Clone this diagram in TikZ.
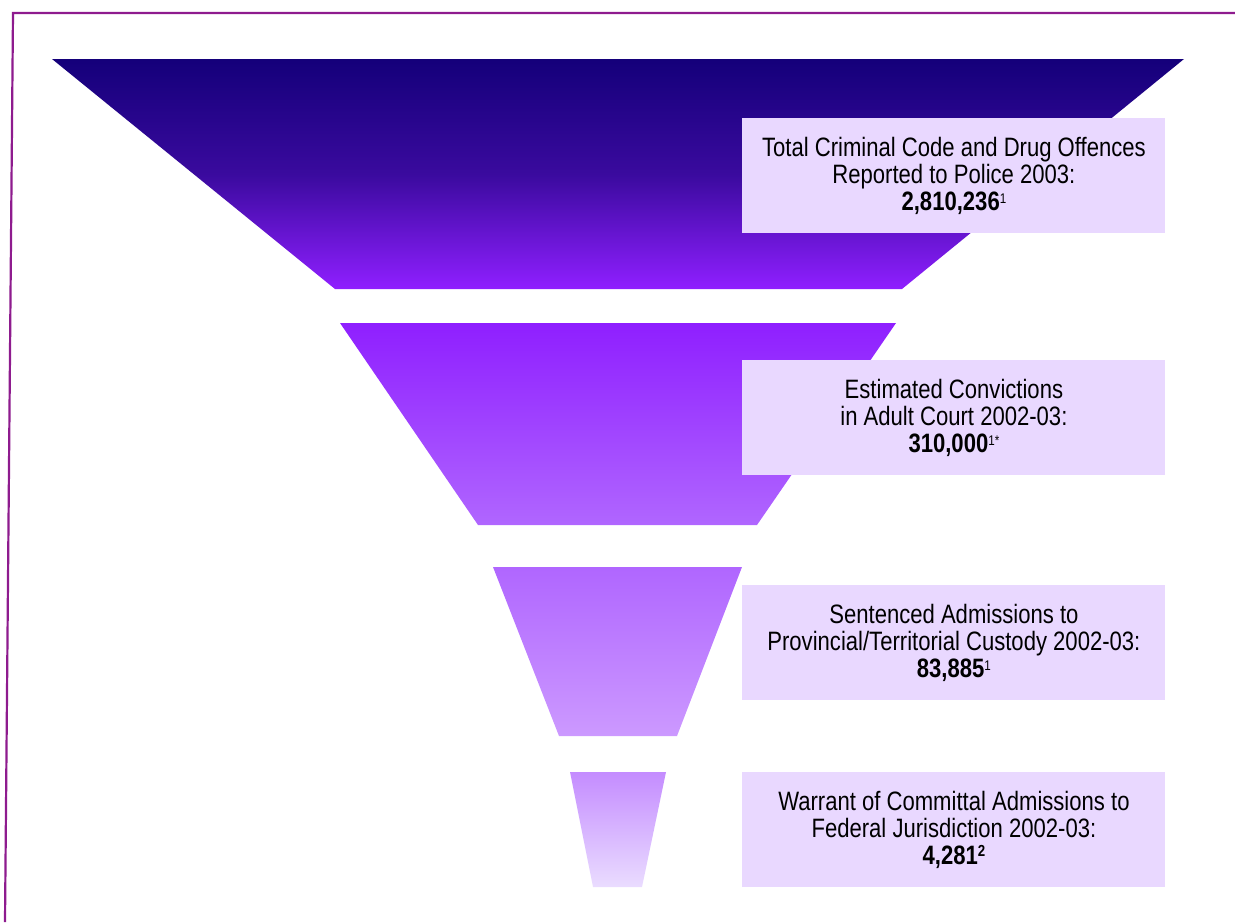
\documentclass[tikz,border=0pt]{standalone}
\usepackage{fontspec}
\setmainfont{Liberation Sans}[FakeStretch=0.83]
\usetikzlibrary{positioning}
\definecolor{framepurple}{HTML}{8E1B8E}
\definecolor{funnelA}{HTML}{14007A}
\definecolor{funnelAB}{HTML}{3A0A9E}
\definecolor{funnelB}{HTML}{8F1FFF}
\definecolor{funnelC}{HTML}{B066FF}
\definecolor{funnelD}{HTML}{CC99FF}
\definecolor{funnelE}{HTML}{C48CFF}
\definecolor{funnelF}{HTML}{EADCFF}
\definecolor{boxfill}{HTML}{E9D8FF}
\newcommand{\noteup}[1]{\raisebox{0.5ex}{\scriptsize #1}}

\begin{document}
\begin{tikzpicture}[x=0.5pt,y=-0.5pt]
	\tikzstyle{every node}=[font=\fontsize{13.3}{13.6}\selectfont]
	\tikzstyle{infobox}=[fill=boxfill, minimum width=211.5pt, minimum height=57.5pt, inner sep=0pt, align=center, anchor=north west]
	\useasboundingbox (0,0) rectangle (1235,922);
	% frame
	\draw [framepurple, line width=1.1pt] (1235,13) -- (13,13) -- (5,922);
	% funnel
	\shade [top color=funnelA, bottom color=funnelB, middle color=funnelAB] (52,59) -- (1184,59) -- (902,289) -- (335,289) -- cycle;
	\shade [top color=funnelB, bottom color=funnelC] (340,323) -- (896,323) -- (757,525) -- (478,525) -- cycle;
	\shade [top color=funnelC, bottom color=funnelD] (493,567) -- (742,567) -- (677,736) -- (559,736) -- cycle;
	\shade [top color=funnelE, bottom color=funnelF] (570,772) -- (666,772) -- (642,887) -- (593,887) -- cycle;
	% labels
	\node [infobox] (police) at (742,118) {Total Criminal Code and Drug Offences\\Reported to Police 2003:\\\textbf{2,810,236}\noteup{1}};
	\node [infobox] (court) at (742,360) {Estimated Convictions\\in Adult Court 2002-03:\\\textbf{310,000}\noteup{1*}};
	\node [infobox] (custody) at (742,585) {Sentenced Admissions to\\Provincial/Territorial Custody 2002-03:\\\textbf{83,885}\noteup{1}};
	\node [infobox] (federal) at (742,772) {Warrant of Committal Admissions to\\Federal Jurisdiction 2002-03:\\\textbf{4,281}\raisebox{0.55ex}{\footnotesize\bfseries 2}};
\end{tikzpicture}
\end{document}
